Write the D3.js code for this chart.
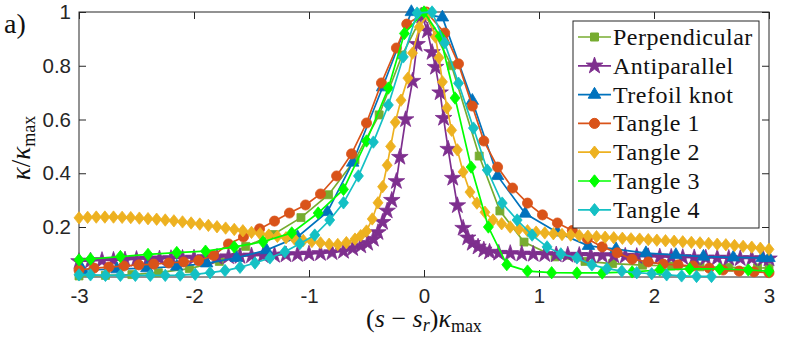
<!DOCTYPE html>
<html>
<head>
<meta charset="utf-8">
<script src="https://cdn.jsdelivr.net/npm/d3@7"></script>
<style>
  body { margin: 0; background: #fff; }
</style>
</head>
<body>
<svg id="chart" width="789" height="345"></svg>
<script>
// curvature profiles: [ (s - s_r) kappa_max , kappa / kappa_max ]
const perpendicular = [[-3.00,0.018],[-2.77,0.020],[-2.54,0.023],[-2.31,0.030],[-2.04,0.045],[-1.78,0.072],[-1.55,0.128],[-1.31,0.172],[-1.07,0.235],[-0.83,0.320],[-0.60,0.450],[-0.39,0.617],[-0.19,0.840],[0.00,1.000],[0.24,0.800],[0.48,0.464],[0.66,0.260],[0.87,0.144],[1.14,0.089],[1.40,0.072],[1.64,0.064],[1.90,0.058],[2.15,0.055],[2.40,0.052],[2.65,0.050],[2.90,0.048],[3.00,0.047]];

const antiparallel = [[-3.0,0.072],[-2.9,0.074],[-2.8,0.076],[-2.7,0.077],[-2.6,0.078],[-2.5,0.080],[-2.4,0.081],[-2.3,0.082],[-2.2,0.083],[-2.1,0.084],[-2.0,0.085],[-1.9,0.087],[-1.8,0.088],[-1.7,0.090],[-1.6,0.091],[-1.5,0.093],[-1.4,0.094],[-1.3,0.095],[-1.2,0.097],[-1.1,0.098],[-1.0,0.100],[-0.9,0.102],[-0.8,0.105],[-0.7,0.110],[-0.62,0.120],[-0.55,0.130],[-0.49,0.140],[-0.44,0.155],[-0.40,0.180],[-0.36,0.218],[-0.32,0.260],[-0.28,0.300],[-0.24,0.370],[-0.21,0.460],[-0.16,0.600],[-0.10,0.743],[-0.06,0.880],[-0.02,0.985],[0.03,0.930],[0.07,0.850],[0.10,0.795],[0.14,0.700],[0.17,0.605],[0.21,0.490],[0.25,0.382],[0.29,0.280],[0.34,0.196],[0.38,0.160],[0.42,0.140],[0.47,0.126],[0.52,0.115],[0.57,0.107],[0.65,0.103],[0.75,0.102],[0.85,0.100],[0.95,0.099],[1.05,0.098],[1.15,0.097],[1.25,0.096],[1.35,0.095],[1.45,0.094],[1.55,0.094],[1.65,0.093],[1.75,0.092],[1.85,0.091],[1.95,0.090],[2.05,0.089],[2.15,0.088],[2.25,0.087],[2.35,0.086],[2.45,0.085],[2.55,0.085],[2.65,0.084],[2.75,0.083],[2.85,0.083],[2.95,0.082],[3.00,0.082]];

const trefoil = [[-2.97,0.040],[-2.67,0.043],[-2.41,0.047],[-2.15,0.053],[-1.89,0.065],[-1.63,0.085],[-1.37,0.114],[-1.10,0.163],[-0.84,0.256],[-0.62,0.440],[-0.36,0.720],[-0.11,1.000],[0.16,0.980],[0.42,0.670],[0.64,0.390],[0.88,0.250],[1.16,0.180],[1.43,0.130],[1.67,0.118],[1.93,0.103],[2.19,0.096],[2.43,0.090],[2.69,0.087],[2.94,0.085],[3.00,0.085]];

const tangle1 = [[-3.00,0.040],[-2.87,0.047],[-2.74,0.051],[-2.61,0.055],[-2.48,0.059],[-2.35,0.062],[-2.22,0.066],[-2.09,0.070],[-1.96,0.075],[-1.83,0.094],[-1.70,0.137],[-1.57,0.163],[-1.43,0.193],[-1.30,0.222],[-1.17,0.252],[-1.03,0.282],[-0.90,0.323],[-0.76,0.390],[-0.63,0.472],[-0.50,0.587],[-0.37,0.736],[-0.24,0.866],[-0.15,0.955],[0.02,1.000],[0.18,0.922],[0.30,0.807],[0.42,0.650],[0.52,0.520],[0.64,0.423],[0.77,0.345],[0.90,0.289],[1.03,0.245],[1.16,0.215],[1.29,0.187],[1.42,0.156],[1.55,0.126],[1.68,0.104],[1.81,0.080],[1.95,0.070],[2.08,0.062],[2.21,0.059],[2.34,0.055],[2.48,0.047],[2.60,0.040],[2.74,0.036],[2.87,0.033],[3.00,0.030]];

const tangle2 = [[-3.000,0.234],[-2.925,0.236],[-2.850,0.237],[-2.775,0.237],[-2.700,0.237],[-2.625,0.236],[-2.550,0.235],[-2.475,0.233],[-2.400,0.231],[-2.325,0.229],[-2.250,0.226],[-2.175,0.223],[-2.100,0.219],[-2.025,0.215],[-1.950,0.211],[-1.875,0.206],[-1.800,0.201],[-1.725,0.196],[-1.650,0.191],[-1.575,0.186],[-1.500,0.180],[-1.425,0.175],[-1.350,0.170],[-1.275,0.165],[-1.200,0.160],[-1.125,0.155],[-1.050,0.150],[-0.975,0.146],[-0.900,0.141],[-0.825,0.136],[-0.750,0.135],[-0.675,0.142],[-0.600,0.155],[-0.550,0.168],[-0.500,0.185],[-0.450,0.230],[-0.400,0.290],[-0.360,0.350],[-0.320,0.430],[-0.290,0.500],[-0.250,0.590],[-0.200,0.672],[-0.140,0.754],[-0.100,0.847],[-0.040,0.944],[0.030,0.990],[0.100,0.907],[0.130,0.830],[0.160,0.740],[0.200,0.643],[0.240,0.560],[0.290,0.487],[0.340,0.405],[0.400,0.330],[0.460,0.289],[0.530,0.255],[0.600,0.226],[0.675,0.212],[0.750,0.200],[0.825,0.192],[0.900,0.186],[0.975,0.181],[1.050,0.178],[1.125,0.175],[1.200,0.172],[1.275,0.170],[1.350,0.168],[1.425,0.166],[1.500,0.164],[1.575,0.162],[1.650,0.160],[1.725,0.158],[1.800,0.156],[1.875,0.155],[1.950,0.153],[2.025,0.151],[2.100,0.149],[2.175,0.147],[2.250,0.145],[2.325,0.143],[2.400,0.141],[2.475,0.139],[2.550,0.136],[2.625,0.134],[2.700,0.131],[2.775,0.128],[2.850,0.125],[2.925,0.121],[3.000,0.117]];

const tangle3 = [[-3.00,0.078],[-2.90,0.081],[-2.64,0.090],[-2.40,0.098],[-2.15,0.105],[-1.90,0.110],[-1.65,0.126],[-1.40,0.145],[-1.15,0.178],[-0.92,0.252],[-0.70,0.340],[-0.50,0.520],[-0.31,0.717],[-0.17,0.920],[0.00,1.000],[0.14,0.910],[0.27,0.680],[0.41,0.423],[0.56,0.200],[0.72,0.060],[0.90,0.036],[1.11,0.030],[1.33,0.029],[1.55,0.029],[1.81,0.033],[2.05,0.040],[2.31,0.044],[2.57,0.044],[2.82,0.040],[3.00,0.036]];

const tangle4 = [[-3.00,0.022],[-2.90,0.022],[-2.77,0.020],[-2.64,0.020],[-2.51,0.020],[-2.38,0.020],[-2.25,0.020],[-2.12,0.021],[-1.99,0.024],[-1.86,0.030],[-1.73,0.038],[-1.60,0.050],[-1.47,0.066],[-1.34,0.085],[-1.21,0.108],[-1.08,0.138],[-0.95,0.170],[-0.82,0.226],[-0.70,0.290],[-0.57,0.390],[-0.44,0.516],[-0.31,0.654],[-0.18,0.833],[-0.06,0.996],[0.07,1.000],[0.18,0.885],[0.30,0.735],[0.43,0.568],[0.55,0.412],[0.68,0.289],[0.81,0.226],[0.94,0.170],[1.07,0.126],[1.19,0.100],[1.33,0.085],[1.46,0.059],[1.59,0.045],[1.72,0.036],[1.85,0.030],[1.98,0.026],[2.11,0.022],[2.24,0.018],[2.37,0.016],[2.50,0.016]];

const seriesNames = ["Perpendicular", "Antiparallel", "Trefoil knot", "Tangle 1", "Tangle 2", "Tangle 3", "Tangle 4"];
const seriesColors = ["#77AC30", "#7E2F8E", "#0072BD", "#D95319", "#EDB120", "#00FF00", "#14C0C4"];
const seriesMarkers = ["square", "star", "triangle", "circle", "diamond", "diamond", "diamond"];
const seriesData = [perpendicular, antiparallel, trefoil, tangle1, tangle2, tangle3, tangle4];

const xTicks = [-3, -2, -1, 0, 1, 2, 3];
const yTicks = [0.2, 0.4, 0.6, 0.8, 1];

const svg = d3.select("#chart");
const plotLeft = 79, plotRight = 769, plotTop = 12, plotBottom = 277;
const AXIS_COLOR = "#262626";

const x = d3.scaleLinear().domain([-3, 3]).range([plotLeft, plotRight]);
const y = d3.scaleLinear().domain([0.014, 1]).range([plotBottom, plotTop]);

function markerPath(kind) {
    if (kind == "square") return d3.symbol(d3.symbolSquare, 64)();
    if (kind == "star") return d3.symbol(d3.symbolStar, 85)();
    if (kind == "triangle") return d3.symbol(d3.symbolTriangle, 68)();
    if (kind == "circle") return d3.symbol(d3.symbolCircle, 80)();
    return "M0,-6.2L5,0L0,6.2L-5,0Z";
}

// axes box with inward ticks (matlab style)
const tickFont = "'Liberation Sans', Arial, sans-serif";
const plainNum = d => String(d);   // hyphen minus like matlab

svg.append("g")
    .attr("transform", "translate(0," + plotBottom + ")")
    .call(d3.axisBottom(x).tickValues(xTicks).tickSizeInner(-7).tickSizeOuter(0).tickPadding(11).tickFormat(plainNum))
    .call(g => g.select(".domain").remove());
svg.append("g")
    .attr("transform", "translate(0," + plotTop + ")")
    .call(d3.axisTop(x).tickValues(xTicks).tickSizeInner(-7).tickSizeOuter(0).tickFormat(""))
    .call(g => g.select(".domain").remove());
svg.append("g")
    .attr("transform", "translate(" + plotLeft + ",0)")
    .call(d3.axisLeft(y).tickValues(yTicks).tickSizeInner(-7).tickSizeOuter(0).tickPadding(8).tickFormat(plainNum))
    .call(g => g.select(".domain").remove());
svg.append("g")
    .attr("transform", "translate(" + plotRight + ",0)")
    .call(d3.axisRight(y).tickValues(yTicks).tickSizeInner(-7).tickSizeOuter(0).tickFormat(""))
    .call(g => g.select(".domain").remove());

svg.selectAll(".tick line").attr("stroke", AXIS_COLOR);
svg.selectAll(".tick text")
    .attr("fill", AXIS_COLOR)
    .style("font-family", tickFont)
    .style("font-size", "20.5px");

svg.append("rect")
    .attr("x", plotLeft).attr("y", plotTop)
    .attr("width", plotRight - plotLeft).attr("height", plotBottom - plotTop)
    .attr("fill", "none").attr("stroke", AXIS_COLOR).attr("stroke-width", 1);

// curves
const line = d3.line().x(d => x(d[0])).y(d => y(d[1]));

seriesData.forEach((data, i) => {
    const g = svg.append("g");
    g.append("path")
        .attr("d", line(data))
        .attr("fill", "none")
        .attr("stroke", seriesColors[i])
        .attr("stroke-width", 1.7);
    g.selectAll("path.m")
        .data(data)
        .enter().append("path")
        .attr("class", "m")
        .attr("d", markerPath(seriesMarkers[i]))
        .attr("transform", d => "translate(" + x(d[0]) + "," + y(d[1]) + ")")
        .attr("fill", seriesColors[i])
        .attr("stroke", seriesColors[i])
        .attr("stroke-width", 0.8);
});

// legend
const serif = "'Liberation Serif', 'Times New Roman', serif";
const legend = svg.append("g");
legend.append("rect")
    .attr("x", 573).attr("y", 21)
    .attr("width", 186).attr("height", 207)
    .attr("fill", "#fff").attr("stroke", AXIS_COLOR).attr("stroke-width", 1);

seriesNames.forEach((name, i) => {
    const cy = 37 + i * 28.8;
    legend.append("line")
        .attr("x1", 578).attr("x2", 611)
        .attr("y1", cy).attr("y2", cy)
        .attr("stroke", seriesColors[i]).attr("stroke-width", 1.7);
    legend.append("path")
        .attr("d", markerPath(seriesMarkers[i]))
        .attr("transform", "translate(594.5," + cy + ")")
        .attr("fill", seriesColors[i])
        .attr("stroke", seriesColors[i]);
    legend.append("text")
        .attr("x", 613).attr("y", cy + 8)
        .style("font-family", serif)
        .style("font-size", "24px")
        .style("letter-spacing", "0.5px")
        .attr("fill", "#111")
        .text(name);
});

// axis labels
const xl = svg.append("text")
    .attr("x", 424).attr("y", 327)
    .attr("text-anchor", "middle")
    .style("font-family", serif)
    .style("font-size", "26px")
    .attr("fill", "#111");
xl.append("tspan").text("(");
xl.append("tspan").style("font-style", "italic").text("s");
xl.append("tspan").text(" \u2212 ");
xl.append("tspan").style("font-style", "italic").text("s");
xl.append("tspan").style("font-style", "italic").style("font-size", "18px").attr("dy", 4).text("r");
xl.append("tspan").attr("dy", -4).text(")");
xl.append("tspan").style("font-style", "italic").text("\u03ba");
xl.append("tspan").style("font-size", "18px").attr("dy", 5).text("max");

const yl = svg.append("text")
    .attr("transform", "translate(30,148) rotate(-90)")
    .attr("text-anchor", "middle")
    .style("font-family", serif)
    .style("font-size", "27px")
    .attr("fill", "#111");
yl.append("tspan").style("font-style", "italic").text("\u03ba");
yl.append("tspan").text("/");
yl.append("tspan").style("font-style", "italic").text("\u03ba");
yl.append("tspan").style("font-size", "18px").attr("dy", 5).text("max");

svg.append("text")
    .attr("x", 4).attr("y", 33)
    .style("font-family", serif)
    .style("font-size", "28px")
    .attr("fill", "#111")
    .text("a)");
</script>
</body>
</html>
